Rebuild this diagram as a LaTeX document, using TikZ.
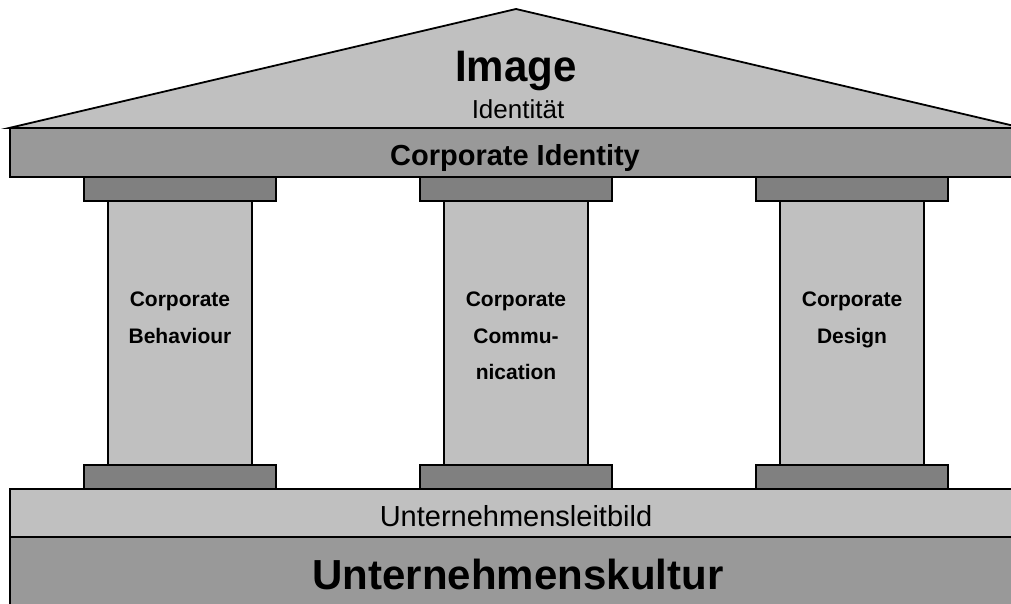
\documentclass[tikz,border=0pt]{standalone}
\usepackage{fontspec}
\setmainfont{Liberation Sans}
\definecolor{lite}{HTML}{C0C0C0}
\definecolor{mid}{HTML}{999999}
\definecolor{dark}{HTML}{808080}
\begin{document}
\begin{tikzpicture}[x=1pt,y=-1pt,
  part/.style={draw=black,line width=1.8pt,line join=miter},
  txt/.style={inner sep=0pt,anchor=base,text=black},
  fs/.style={font=\fontsize{#1}{#1}\selectfont},
  fsb/.style={font=\fontsize{#1}{#1}\selectfont\bfseries},
  plabel/.style={txt,fsb=21}]
\useasboundingbox (0,0) rectangle (1011,604);
\clip (0,0) rectangle (1011,604);
% roof
\filldraw[part,fill=lite] (9,128) -- (516,9) -- (1023,128) -- cycle;
% beam
\filldraw[part,fill=mid] (10,128) rectangle (1024,177);
% pillars
\foreach \cx in {180,516,852}{
  \filldraw[part,fill=dark] (\cx-96,177) rectangle (\cx+96,201);
  \filldraw[part,fill=lite] (\cx-72,201) rectangle (\cx+72,465);
  \filldraw[part,fill=dark] (\cx-96,465) rectangle (\cx+96,489);
}
% base bands
\filldraw[part,fill=lite] (10,489) rectangle (1024,537);
\filldraw[part,fill=mid] (10,537) rectangle (1024,620);
% texts
\node[txt,fsb=42,yscale=1.05] (image) at (516,82) {Image};
\node[txt,fs=26] (ident) at (518,119) {Identität};
\node[txt,fsb=29] (ci) at (515,166) {Corporate Identity};
\node[plabel] (b1) at (180,306) {Corporate};
\node[plabel] (b2) at (180,343) {Behaviour};
\node[plabel] (c1) at (516,306) {Corporate};
\node[plabel] (c2) at (516,343) {Commu-};
\node[plabel] (c3) at (516,379) {nication};
\node[plabel] (d1) at (852,306) {Corporate};
\node[plabel] (d2) at (852,343) {Design};
\node[txt,fs=29] (leit) at (516,526) {Unternehmensleitbild};
\node[txt,fsb=42] (kult) at (518,589) {Unternehmenskultur};
\end{tikzpicture}
\end{document}
